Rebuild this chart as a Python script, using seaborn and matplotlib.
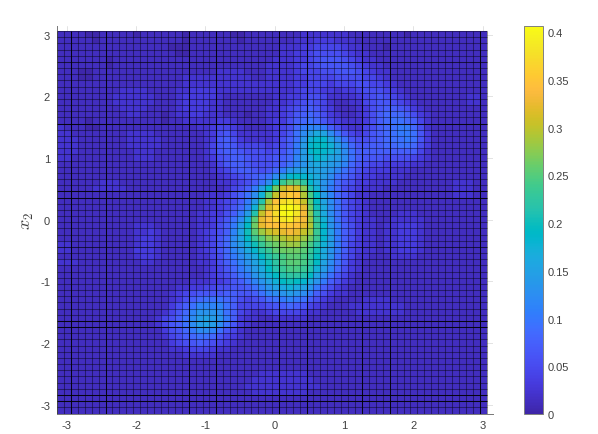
# density map of x1, x2 on a 62 x 62 mesh
import numpy as np
import pandas as pd
import seaborn as sns
import matplotlib.pyplot as plt
from matplotlib.colors import LinearSegmentedColormap

sns.set_style('ticks')
plt.rcParams['font.family'] = ['Liberation Sans', 'DejaVu Sans']
plt.rcParams['mathtext.fontset'] = 'cm'

# cell values x 100, top row first
density_rows = [
    [2,2,2,2,1,1,2,2,2,2, 2,1,2,2,2,2,2,2,1,2, 2,2,2,2,2,1,1,2,2,2, 2,2,2,2,2,3,3,3,3,3, 3,3,2,2,2,2,2,2,2,2, 1,2,2,2,2,2,2,2,2,2,2,2],
    [2,2,2,2,2,1,2,2,2,2, 2,2,2,2,2,2,2,2,1,2, 2,2,2,2,2,2,1,2,2,2, 2,2,2,2,3,3,3,4,4,4, 3,3,3,2,2,2,2,2,2,2, 2,2,2,2,2,2,2,2,2,2,2,2],
    [2,2,2,2,2,2,2,2,2,2, 2,2,2,2,2,2,1,1,1,2, 2,2,2,2,2,2,2,2,2,2, 2,2,3,3,3,4,4,5,5,5, 5,4,3,3,2,2,2,1,2,2, 2,2,2,2,2,2,2,2,2,2,2,2],
    [2,2,2,2,2,2,2,2,2,2, 2,2,2,2,2,2,2,1,1,2, 2,2,2,2,2,2,2,2,2,2, 2,2,3,3,4,4,5,6,6,6, 6,5,4,3,3,2,2,2,2,2, 2,2,2,2,2,2,2,2,2,2,2,2],
    [2,2,2,2,2,2,2,1,2,2, 2,2,2,2,2,2,2,2,2,2, 2,2,2,2,2,2,2,2,2,2, 2,3,3,3,4,4,5,6,7,7, 7,6,5,4,3,3,2,2,2,2, 2,2,2,2,2,2,2,2,2,2,2,2],
    [2,2,2,2,2,2,2,1,2,2, 2,2,2,2,2,2,2,2,2,2, 2,2,2,2,2,2,2,2,2,2, 3,3,3,3,4,5,5,6,7,7, 7,7,6,5,4,3,3,2,2,2, 2,2,2,2,2,2,2,2,2,2,2,2],
    [2,2,2,1,1,2,2,2,2,2, 2,2,2,2,2,2,2,2,2,2, 2,2,2,3,3,3,3,2,2,2, 3,3,3,3,4,5,5,5,6,6, 7,7,7,6,5,4,3,3,2,2, 2,2,2,2,2,2,2,2,2,2,2,2],
    [2,2,2,1,1,2,2,2,2,2, 2,2,2,2,2,2,2,2,3,3, 3,3,3,3,3,3,3,3,2,2, 3,3,3,3,4,4,5,5,5,5, 6,6,6,6,5,5,4,3,2,2, 2,2,2,2,2,2,2,2,2,2,2,2],
    [2,2,2,2,2,2,2,2,2,2, 2,2,2,2,2,2,2,2,3,3, 3,3,3,3,3,3,3,3,3,3, 3,3,3,3,4,4,5,5,5,4, 5,5,5,6,6,5,5,4,3,2, 2,2,2,2,2,2,2,2,2,2,2,2],
    [2,2,2,2,2,2,2,2,2,3, 3,3,3,2,2,2,2,3,3,4, 4,4,4,3,3,3,3,3,3,3, 3,3,3,3,4,5,5,5,4,4, 3,4,4,5,6,6,6,5,4,3, 2,2,2,2,2,2,2,2,2,2,2,2],
    [2,2,2,2,2,2,2,2,3,3, 3,3,3,3,2,2,2,3,4,4, 4,4,4,3,2,2,2,2,2,2, 2,3,3,4,4,5,6,6,5,3, 3,3,3,4,5,6,7,6,5,4, 3,2,2,2,2,2,2,2,2,3,3,2],
    [2,2,2,2,2,2,2,2,3,3, 3,3,3,3,2,2,2,3,4,4, 4,4,3,3,2,2,2,2,2,2, 2,3,3,4,5,6,7,6,5,3, 2,2,3,3,5,6,7,7,6,5, 4,3,2,2,2,2,2,2,2,3,3,2],
    [2,2,2,2,2,2,2,2,2,3, 3,3,3,2,2,2,2,3,4,4, 4,4,3,3,2,2,2,2,2,2, 3,3,4,5,6,7,8,7,5,4, 2,2,2,3,4,6,7,8,8,7, 6,4,3,2,2,2,2,2,2,2,2,2],
    [2,2,2,2,2,2,2,2,2,2, 3,3,2,2,2,1,2,3,3,4, 4,3,3,3,2,2,2,1,2,2, 3,3,4,5,7,8,9,8,6,4, 3,2,2,3,4,6,8,9,9,9, 8,6,4,3,2,2,2,2,2,2,2,2],
    [2,2,2,2,1,2,2,2,2,2, 2,2,2,2,2,1,2,2,3,3, 3,3,3,4,4,3,2,2,2,2, 3,4,4,6,8,9,10,9,7,5, 4,3,3,3,4,6,8,9,10,10, 9,8,5,3,2,2,2,2,2,2,2,2],
    [3,2,2,2,1,1,2,2,2,2, 2,2,2,2,2,2,2,2,2,2, 3,3,4,5,5,4,3,2,2,2, 3,4,5,6,9,11,12,12,11,8, 6,4,3,3,5,6,8,9,10,11, 11,9,6,3,2,2,2,2,2,2,2,2],
    [3,3,2,2,2,2,2,2,2,2, 3,3,3,3,2,2,2,2,2,2, 2,3,4,6,7,5,3,3,3,3, 3,4,5,7,10,13,15,17,16,13, 10,7,5,4,5,7,8,9,10,11, 11,10,7,4,2,2,2,2,2,2,2,2],
    [3,3,3,2,2,2,2,2,2,2, 3,3,3,3,3,2,2,2,2,2, 2,3,4,7,8,6,4,3,3,3, 3,4,6,8,10,14,18,19,19,16, 13,10,7,6,6,7,8,9,10,10, 11,10,7,4,2,2,2,2,2,2,2,2],
    [3,3,3,2,2,2,2,2,2,2, 3,3,3,3,3,2,2,2,2,2, 2,3,5,7,8,7,5,5,5,5, 4,5,6,8,11,15,19,20,20,18, 15,12,9,7,7,8,8,9,9,10, 10,9,6,4,2,2,2,2,2,2,2,2],
    [3,3,3,2,2,2,2,2,2,2, 2,3,3,3,2,2,2,2,2,2, 2,3,5,7,8,8,7,6,6,6, 5,6,7,9,11,15,19,20,19,18, 16,13,10,8,8,8,8,8,8,8, 8,8,5,3,2,2,2,2,2,2,2,2],
    [3,3,2,2,2,2,2,2,2,2, 2,3,3,3,2,2,2,2,2,2, 2,3,4,6,7,8,8,7,6,6, 6,7,8,9,12,15,17,19,18,16, 15,13,10,8,7,7,7,6,6,6, 6,5,4,3,2,2,2,2,2,2,2,2],
    [2,2,2,2,2,2,2,2,2,2, 2,2,2,2,2,2,2,2,2,2, 2,2,3,5,7,8,8,7,6,6, 6,7,8,10,12,14,16,17,16,15, 14,12,9,7,6,5,5,4,4,4, 4,3,3,2,2,2,2,2,2,2,2,2],
    [2,2,2,2,2,2,2,2,2,2, 2,2,2,2,2,2,2,2,2,2, 2,2,3,4,5,7,8,8,7,6, 7,9,11,14,15,16,16,16,15,14, 12,10,8,6,5,4,4,4,3,3, 3,2,2,2,2,2,2,2,2,2,2,2],
    [2,2,2,2,2,2,2,2,2,2, 2,2,2,2,2,2,2,2,2,2, 2,2,2,3,4,5,6,7,8,9, 10,13,16,19,20,19,18,17,15,13, 10,9,7,5,4,4,3,3,3,3, 2,2,2,2,2,2,2,2,2,2,2,2],
    [2,2,2,2,2,2,3,3,3,2, 2,2,2,2,2,2,2,2,2,2, 2,2,2,3,3,4,5,6,8,10, 13,19,24,26,26,23,19,17,14,12, 9,7,6,4,4,3,3,3,3,2, 2,2,2,2,2,2,2,3,3,3,2,2],
    [2,2,2,2,2,3,3,3,3,3, 2,2,2,2,2,2,2,2,2,2, 2,2,2,2,3,5,6,8,11,15, 20,27,31,33,32,28,22,18,14,11, 9,6,5,4,3,3,3,2,2,2, 2,2,2,2,2,2,2,3,3,3,2,2],
    [2,2,2,2,2,2,2,2,2,2, 2,2,2,2,2,2,2,2,2,2, 2,3,3,3,4,6,8,10,13,18, 26,31,34,36,35,30,25,20,15,12, 9,7,5,3,3,2,2,2,2,2, 2,2,2,2,2,2,2,3,3,3,2,2],
    [2,2,2,2,2,2,2,2,2,2, 2,2,2,2,2,2,2,2,2,2, 2,3,3,4,5,6,8,11,15,22, 30,35,38,39,37,31,26,20,16,13, 10,7,5,4,3,2,2,2,2,2, 2,2,2,2,2,2,2,2,2,2,2,2],
    [2,2,2,2,2,2,2,2,2,2, 2,2,2,2,2,2,2,2,2,2, 2,3,3,4,5,7,9,12,18,26, 32,37,41,42,40,33,27,21,17,13, 10,7,5,4,3,2,2,2,2,2, 2,2,2,2,2,2,2,2,2,2,2,2],
    [2,2,2,2,2,2,2,2,2,2, 2,2,2,2,2,2,2,2,2,2, 3,3,4,4,6,8,11,15,22,31, 35,38,41,42,39,34,28,22,17,13, 10,7,5,4,3,2,2,2,2,3, 3,3,2,2,2,2,2,2,2,2,2,2],
    [2,2,2,2,2,2,2,2,2,2, 2,2,2,2,2,2,2,2,2,2, 3,3,4,5,7,10,13,18,26,33, 35,37,39,40,37,34,29,23,18,14, 10,7,5,4,3,3,2,2,3,3, 3,3,3,2,2,2,2,2,2,2,2,2],
    [2,2,2,2,2,2,2,2,2,2, 2,3,3,3,2,2,2,2,2,2, 3,3,4,6,8,11,15,20,27,33, 35,35,36,36,35,33,30,24,19,14, 11,8,6,4,3,3,2,3,3,4, 4,4,3,2,2,2,2,2,2,2,2,2],
    [2,2,2,2,2,2,2,2,2,2, 2,3,3,4,3,2,2,2,2,2, 3,4,5,6,8,12,16,21,26,29, 31,32,33,34,33,31,29,24,19,15, 11,8,6,4,3,3,2,3,3,4, 4,4,3,2,2,2,2,2,2,2,2,2],
    [2,2,2,2,2,2,2,2,2,2, 2,3,4,4,3,2,2,2,2,2, 3,4,5,7,9,13,16,20,24,26, 28,29,30,31,31,29,27,24,19,15, 11,8,6,4,3,3,2,3,3,4, 4,4,3,2,2,2,2,2,2,2,2,2],
    [3,3,2,2,2,2,2,2,2,2, 2,3,4,4,3,2,2,2,2,2, 3,4,5,7,9,13,15,18,21,24, 26,27,28,29,29,27,25,22,18,15, 11,8,5,4,3,3,2,3,3,4, 4,4,3,2,2,2,2,2,2,2,2,2],
    [3,3,2,2,2,2,2,2,2,2, 2,4,4,4,3,2,2,2,2,2, 3,4,5,7,9,12,14,17,19,22, 24,26,27,27,27,26,24,21,17,14, 11,8,5,4,3,3,2,3,3,4, 4,4,3,2,2,2,2,2,2,2,2,2],
    [2,2,2,2,2,2,2,2,2,2, 2,3,4,4,3,2,2,2,2,2, 3,3,5,6,9,11,13,15,17,20, 22,24,25,26,26,25,23,20,17,14, 10,7,5,3,3,2,2,2,3,3, 3,3,2,2,2,2,2,2,2,2,2,2],
    [3,3,3,2,2,2,2,2,2,2, 2,2,3,3,2,2,2,2,2,2, 3,3,4,6,8,10,12,14,16,18, 21,23,25,26,26,25,23,20,16,13, 10,7,4,3,2,2,2,2,2,2, 2,2,2,2,2,2,2,2,2,2,2,2],
    [2,2,2,2,2,2,2,2,2,2, 2,2,2,2,2,2,2,2,2,2, 2,3,4,5,7,9,11,13,15,17, 20,22,24,25,25,24,22,18,15,12, 9,6,4,3,2,2,2,2,2,2, 2,2,2,2,2,2,2,2,2,2,2,2],
    [2,2,2,2,2,2,2,2,2,2, 2,2,2,2,2,2,2,2,2,2, 2,3,4,5,6,8,10,11,14,16, 18,20,22,23,23,22,20,16,13,10, 7,5,3,2,2,2,2,2,2,2, 2,2,2,2,2,2,2,2,2,2,2,2],
    [2,2,2,2,2,2,2,2,2,2, 2,2,2,2,2,2,2,2,2,3, 3,3,4,4,5,7,8,10,12,14, 16,18,20,21,20,19,17,14,11,8, 6,4,3,2,2,2,2,2,2,2, 2,2,2,2,2,2,2,2,2,2,2,2],
    [2,2,2,2,2,2,2,2,2,2, 2,2,2,2,2,2,2,3,3,4, 4,5,5,6,6,7,7,8,10,12, 14,16,17,18,17,16,14,11,8,6, 4,3,2,2,2,2,2,2,2,2, 2,2,2,2,2,2,2,2,2,2,2,2],
    [2,2,2,2,2,2,2,2,2,2, 2,2,2,2,2,2,3,4,5,6, 7,7,7,7,8,8,7,7,8,10, 12,13,14,15,14,13,11,8,6,4, 3,3,2,2,2,2,2,2,2,2, 2,2,2,2,2,2,2,2,2,2,2,2],
    [2,2,2,2,2,2,2,2,2,2, 2,2,2,2,2,2,3,4,6,8, 9,10,10,10,9,8,6,5,6,7, 9,10,11,12,11,10,8,6,4,3, 2,2,2,2,3,3,3,3,2,2, 2,2,2,2,2,2,2,2,2,2,2,2],
    [2,2,2,2,2,2,2,2,2,2, 2,2,2,2,2,2,4,6,8,10, 12,12,12,12,10,8,5,5,5,5, 6,7,8,9,8,7,5,4,3,2, 2,2,3,3,3,3,3,3,3,3, 2,2,2,2,2,2,2,2,2,2,2,2],
    [2,2,2,2,2,2,2,2,2,2, 2,2,2,2,2,3,5,7,9,12, 14,14,14,13,10,8,5,4,3,3, 4,5,5,5,5,4,3,3,2,2, 2,2,2,3,3,3,3,3,3,3, 2,2,2,2,2,2,2,2,2,2,2,2],
    [2,2,2,2,2,2,2,2,2,2, 2,2,2,2,3,5,6,8,10,13, 15,16,15,14,11,8,4,3,3,2, 2,3,3,3,3,3,2,2,2,2, 2,2,2,2,2,2,2,2,2,2, 2,2,2,2,2,2,2,2,2,2,2,2],
    [2,2,2,2,2,2,2,2,2,2, 2,2,2,2,3,5,7,8,10,13, 15,16,15,13,10,7,4,3,2,2, 2,2,2,2,2,2,2,2,2,2, 2,2,2,2,2,2,2,2,2,2, 2,2,2,2,2,2,2,2,2,2,2,2],
    [2,2,2,2,2,2,2,2,2,2, 2,2,2,2,2,4,6,7,9,11, 13,13,12,10,7,5,3,2,2,2, 2,2,2,2,2,2,2,2,2,2, 2,2,2,2,2,2,2,2,2,2, 2,2,2,2,2,2,2,2,2,2,2,2],
    [2,2,2,2,2,2,2,2,2,2, 2,2,2,2,2,3,5,6,8,9, 10,10,9,7,5,4,3,2,2,2, 2,2,2,2,2,2,2,2,2,2, 2,2,2,2,2,2,2,2,2,2, 2,2,2,2,2,2,2,2,2,2,2,2],
    [2,2,2,2,2,2,2,2,2,2, 2,2,2,2,2,2,4,5,6,7, 8,7,6,5,4,3,2,2,2,2, 2,2,2,2,2,2,2,2,2,2, 2,2,2,2,2,2,2,2,2,2, 2,2,2,2,2,2,2,2,2,2,2,2],
    [2,2,2,2,2,2,2,2,2,2, 2,2,2,2,2,2,3,3,4,5, 5,5,4,3,3,2,2,2,2,2, 2,2,2,2,2,2,2,2,2,2, 2,2,2,2,2,2,2,2,2,2, 2,2,2,2,2,2,2,2,2,2,2,2],
    [2,2,2,2,2,2,2,2,2,2, 2,2,2,2,2,2,2,2,3,3, 3,3,3,2,2,2,2,2,2,2, 2,2,2,2,2,2,2,2,2,2, 2,2,2,2,2,2,2,2,2,2, 2,2,2,2,2,2,2,2,2,2,2,2],
    [2,2,2,2,2,2,2,2,2,2, 2,2,2,2,2,2,2,2,2,2, 2,2,2,2,2,2,2,2,2,2, 2,2,2,2,2,2,2,2,2,2, 2,2,2,2,2,2,2,2,2,2, 2,2,2,2,2,2,2,2,2,2,2,2],
    [2,2,2,2,2,2,2,2,2,2, 2,2,2,2,2,2,2,2,2,2, 2,2,2,2,2,2,2,2,2,2, 2,2,2,2,2,2,2,2,2,2, 2,2,2,2,2,2,2,2,2,2, 2,2,2,2,2,2,2,2,2,2,2,2],
    [2,2,2,2,2,2,2,2,2,2, 2,2,2,2,2,2,2,2,2,2, 2,2,2,2,2,2,2,2,2,3, 3,3,3,3,3,3,2,2,2,2, 2,2,2,2,2,2,2,2,2,2, 2,2,2,2,2,2,2,2,2,2,2,2],
    [2,2,2,2,2,2,2,2,2,2, 2,2,2,2,2,2,2,2,2,2, 2,2,2,2,2,2,2,2,3,3, 3,3,3,3,3,3,3,2,2,2, 2,2,2,2,2,2,2,2,2,2, 2,2,2,2,2,2,2,2,2,2,2,2],
    [2,2,2,2,2,2,2,2,2,2, 2,2,2,2,2,2,2,2,2,2, 2,2,2,2,2,2,2,3,3,3, 3,3,3,3,3,3,3,3,2,2, 2,2,2,2,2,2,2,2,2,2, 2,2,2,2,2,2,2,2,2,2,2,2],
    [2,2,2,2,2,2,2,2,2,2, 2,2,2,2,2,2,2,2,2,2, 2,2,2,2,2,2,2,2,3,3, 3,3,3,3,3,3,2,2,2,2, 2,2,2,2,2,2,2,2,2,2, 2,2,2,2,2,2,2,2,2,2,2,2],
    [2,2,2,2,2,2,2,2,2,2, 2,2,2,2,2,2,2,2,2,2, 2,2,2,2,2,2,2,2,2,2, 2,2,2,2,2,2,2,2,2,2, 2,2,2,2,2,2,2,2,2,2, 2,2,2,2,2,2,2,2,2,2,2,2],
    [2,2,2,2,2,2,2,2,2,2, 2,2,2,2,2,2,2,2,2,2, 2,2,2,2,2,2,2,2,2,2, 2,2,2,2,2,2,2,2,2,2, 2,2,2,2,2,2,2,2,2,2, 2,2,2,2,2,2,2,2,2,2,2,2],
    [2,2,2,2,2,2,2,2,2,2, 2,2,2,2,2,2,2,2,2,2, 2,2,2,2,2,2,2,2,2,2, 2,2,2,2,2,2,2,2,2,2, 2,2,2,2,2,2,2,2,2,2, 2,2,2,2,2,2,2,2,2,2,2,2],
]
tick_values = [-3, -2, -1, 0, 1, 2, 3]
tick_labels = ['-3', '-2', '-1', '0', '1', '2', '3']
cbar_values = [0, 0.05, 0.1, 0.15, 0.2, 0.25, 0.3, 0.35, 0.4]
cbar_labels = ['0', '0.05', '0.1', '0.15', '0.2', '0.25', '0.3', '0.35', '0.4']
# mesh lines that came out heavier in the picture
heavy_cols = [2, 7, 19, 23, 32, 36, 44, 48, 61]
heavy_rows = [2, 3, 14, 15, 35, 36, 47]
medium_rows = [27, 57]

# MATLAB parula
parula_colors = [
    (.2422,.1504,.6603),(.2504,.1650,.7076),(.2578,.1818,.7511),(.2647,.1978,.7952),
    (.2706,.2147,.8364),(.2751,.2342,.8710),(.2783,.2559,.8991),(.2803,.2782,.9221),
    (.2813,.3006,.9414),(.2810,.3228,.9579),(.2795,.3447,.9717),(.2760,.3667,.9829),
    (.2699,.3892,.9906),(.2602,.4123,.9952),(.2440,.4358,.9988),(.2206,.4603,.9973),
    (.1963,.4847,.9892),(.1834,.5074,.9798),(.1786,.5289,.9682),(.1764,.5499,.9520),
    (.1687,.5703,.9359),(.1540,.5902,.9218),(.1460,.6091,.9079),(.1380,.6276,.8973),
    (.1248,.6459,.8883),(.1113,.6635,.8763),(.0952,.6798,.8598),(.0689,.6948,.8394),
    (.0297,.7082,.8163),(.0036,.7203,.7917),(.0067,.7312,.7660),(.0433,.7411,.7394),
    (.0964,.7500,.7120),(.1408,.7584,.6842),(.1717,.7670,.6554),(.1938,.7758,.6251),
    (.2161,.7843,.5923),(.2470,.7918,.5567),(.2906,.7973,.5188),(.3406,.8008,.4789),
    (.3909,.8029,.4354),(.4456,.8024,.3909),(.5044,.7993,.3480),(.5616,.7942,.3045),
    (.6174,.7876,.2612),(.6720,.7793,.2227),(.7242,.7698,.1910),(.7738,.7598,.1646),
    (.8203,.7498,.1535),(.8634,.7406,.1596),(.9035,.7330,.1774),(.9393,.7288,.2100),
    (.9728,.7298,.2394),(.9956,.7434,.2371),(.9970,.7659,.2199),(.9952,.7861,.1967),
    (.9892,.8136,.1885),(.9786,.8386,.1766),(.9676,.8639,.1643),(.9610,.8890,.1537),
    (.9597,.9135,.1423),(.9628,.9373,.1265),(.9691,.9606,.1064),(.9769,.9839,.0805),
]
parula = LinearSegmentedColormap.from_list('parula', parula_colors, N=256)

# mesh starts at -pi with 0.1 steps, bottom row first for the heatmap
# my readings ran a notch high against the colour bar, so take 0.007 off
density = pd.DataFrame(np.clip((np.array(density_rows)[::-1] - 0.7) / 100, 0, None))
n_rows, n_cols = density.shape
to_cell = lambda v: (np.asarray(v) + np.pi) / 0.1
cell_max = to_cell(np.pi)

W, H = 598, 435
fig = plt.figure(figsize=(W / 100, H / 100), dpi=100)
ax = fig.add_axes([57 / W, (H - 414.5) / H, 435.5 / W, 387.5 / H])
cax = fig.add_axes([524 / W, (H - 415) / H, 18.5 / W, 388 / H])

sns.heatmap(density, ax=ax, cbar_ax=cax, cmap=parula, vmin=0, vmax=0.4063,
            xticklabels=False, yticklabels=False)
ax.set_xlim(0, cell_max)
ax.set_ylim(0, cell_max)

# pcolor style cell edges
for i in range(n_cols + 1):
    a = 0.9 if i in heavy_cols else 0.42
    ax.vlines(i, 0, n_rows, color='black', lw=0.75, alpha=a, zorder=3)
for j in range(n_rows + 1):
    a = 0.9 if j in heavy_rows else 0.65 if j in medium_rows else 0.42
    ax.hlines(j, 0, n_cols, color='black', lw=0.75, alpha=a, zorder=3)

ax.set_xticks(to_cell(tick_values))
ax.set_xticklabels(tick_labels)
ax.set_yticks(to_cell(tick_values))
ax.set_yticklabels(tick_labels)
ax.tick_params(length=0, labelsize=8, labelcolor='#404040', pad=5,
               bottom=True, left=True, labelbottom=True, labelleft=True)
ax.tick_params(axis='y', labelrotation=0)
ax.grid(True, color='#262626', alpha=0.15, lw=0.6)
ax.set_axisbelow(True)
for s in ['top', 'right']:
    ax.spines[s].set_visible(False)
for s in ['left', 'bottom']:
    ax.spines[s].set_visible(True)
    ax.spines[s].set_color('#777777')
    ax.spines[s].set_linewidth(0.7)
ax.set_ylabel('$x_2$', fontsize=13, color='#404040', labelpad=3)

cb = ax.collections[0].colorbar
cb.set_ticks(cbar_values)
cb.set_ticklabels(cbar_labels)
cax.tick_params(direction='in', length=3.5, width=0.6, color='#404040', labelsize=8,
                labelcolor='#404040', pad=4, right=True)
cb.outline.set_visible(True)
cb.outline.set_edgecolor('#808080')
cb.outline.set_linewidth(0.7)

fig.savefig('out.png', dpi=100)
